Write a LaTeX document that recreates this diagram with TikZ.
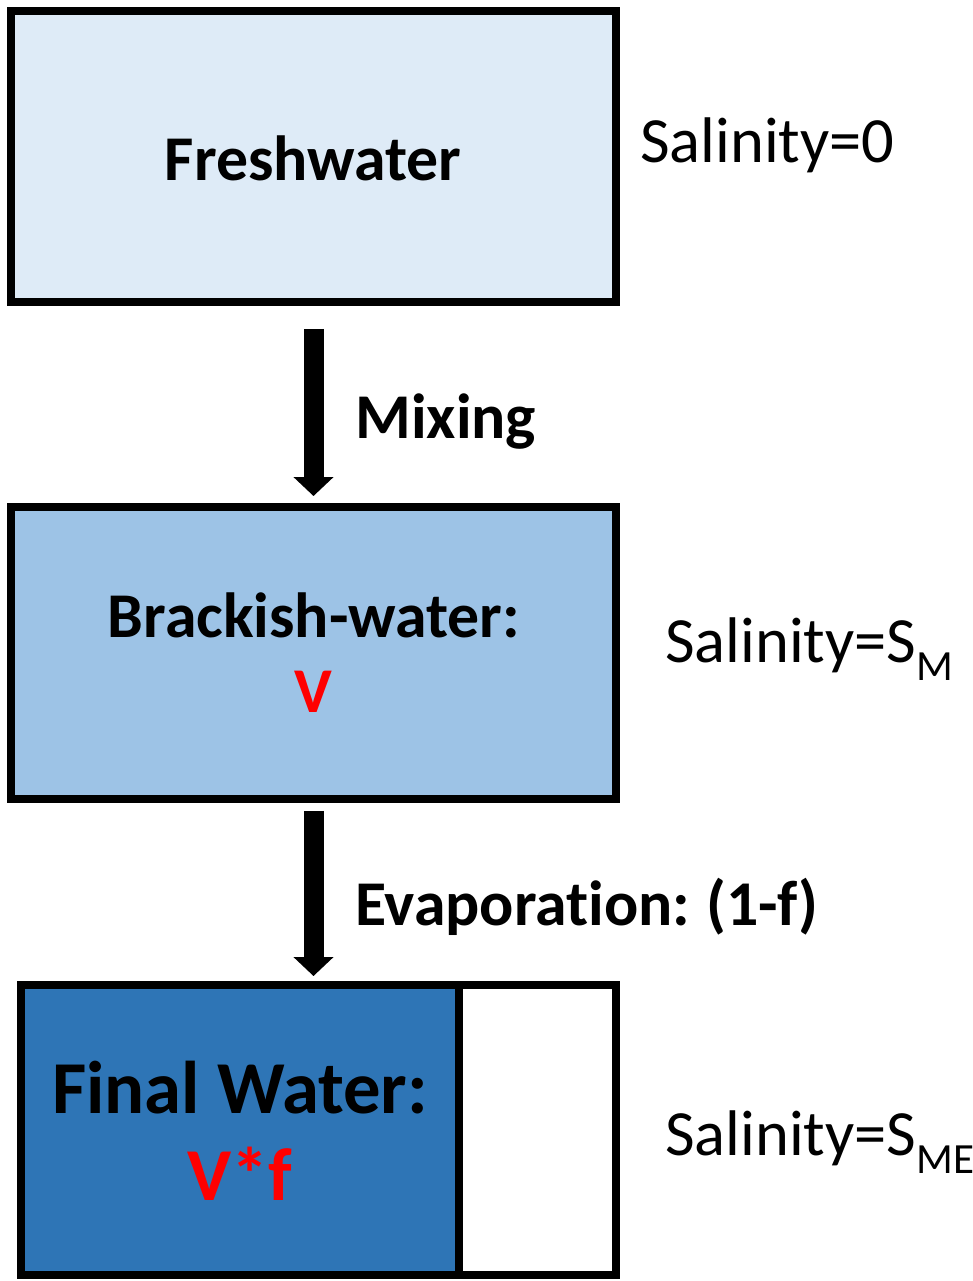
\documentclass[tikz,border=0pt]{standalone}
\usepackage{fontspec}
\setmainfont{Carlito}[Ligatures=NoCommon]
\usetikzlibrary{arrows.meta}
\definecolor{fresh}{HTML}{DEEBF7}
\definecolor{brack}{HTML}{9DC3E6}
\definecolor{finalc}{HTML}{2E75B6}
\definecolor{redv}{HTML}{FF0000}
\newcommand{\sub}[1]{\raisebox{-0.28em}{\fontsize{24.5}{25}\selectfont #1}}
\begin{document}
\begin{tikzpicture}[x=0.02cm,y=-0.02cm,
  boxst/.style={draw=black,line width=0.16cm,inner sep=0pt,outer sep=0pt},
  arrowst/.style={line width=0.4cm,-{Triangle[width=0.78cm,length=0.38cm]}},
  bigtxt/.style={inner sep=0pt,font=\fontsize{36.3}{40}\selectfont\bfseries},
  hugetxt/.style={inner sep=0pt,anchor=base,font=\fontsize{42.5}{45}\selectfont\bfseries},
  saltxt/.style={inner sep=0pt,anchor=base west,font=\fontsize{36.7}{40}\selectfont}]
\useasboundingbox (0,0) rectangle (973,1281);
\node[boxst,fill=fresh,minimum width=12.1cm,minimum height=5.82cm] (b1) at (313.5,156.5) {};
\node[boxst,fill=brack,minimum width=12.1cm,minimum height=5.84cm] (b2) at (313.5,653) {};
\node[boxst,fill=finalc,minimum width=8.76cm,minimum height=5.8cm] (b3) at (240,1130) {};
\node[boxst,fill=white,minimum width=3.14cm,minimum height=5.8cm] (b3e) at (537.5,1130) {};
\draw[arrowst,shorten <=0.54cm,shorten >=0.22cm] (b1.south) -- (b2.north);
\draw[arrowst,shorten <=0.24cm,shorten >=0.18cm] (b2.south) -- (b2.south |- b3.north);
\node[bigtxt,anchor=base] (t1) at (313,180) {Freshwater};
\node[bigtxt,anchor=base west] (tmix) at (355,438) {Mixing};
\node[bigtxt,anchor=base] (t2) at (314,637) {Brackish-water:};
\node[bigtxt,anchor=base,text=redv] (t2v) at (313,712) {V};
\node[bigtxt,anchor=base west] (tevap) at (355,925) {Evaporation:\hspace{-0.05em} (1-f)};
\node[hugetxt] (t3) at (240,1113) {Final Water:};
\node[hugetxt,text=redv] (t3v) at (240,1200) {V*f};
\node[saltxt] (s1) at (640,162) {Salinity=0};
\node[saltxt] (s2) at (665,662) {Salinity=S\sub{M}};
\node[saltxt] (s3) at (665,1155) {Salinity=S\sub{ME}};
\end{tikzpicture}
\end{document}
